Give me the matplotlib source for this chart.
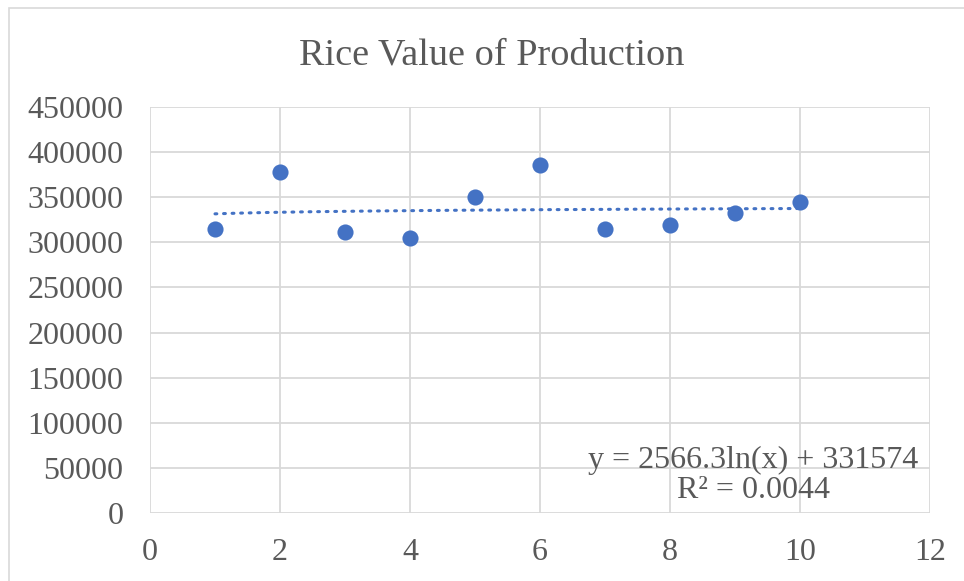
import numpy as np
import matplotlib.pyplot as plt
from matplotlib.patches import Rectangle

plt.rcParams['font.family'] = ['Liberation Serif', 'DejaVu Serif']

# data
years = [1, 2, 3, 4, 5, 6, 7, 8, 9, 10]
value = [315000, 378000, 311000, 304500, 350000, 385500, 315000, 319000, 332500, 344500]

# logarithmic trendline as printed on the chart
trend_a = 2566.3
trend_b = 331574
trend_label = "y = 2566.3ln(x) + 331574\nR² = 0.0044"

blue = '#4472C4'
grey_text = '#595959'
grid_col = '#D9D9D9'

fig = plt.figure(figsize=(9.64, 5.81), dpi=100)
ax = fig.add_axes([150 / 964, 68 / 581, 780 / 964, 406 / 581])

# outer chart border
fig.patches.append(Rectangle((9 / 964, -0.1), 1.0, 1.1 - 8 / 581, transform=fig.transFigure,
                             fill=False, edgecolor=grid_col, linewidth=1.2))

xs = np.linspace(min(years), max(years), 200)
ax.plot(xs, trend_a * np.log(xs) + trend_b, color=blue, linewidth=2.2,
        linestyle=(0, (0.6, 2.2)), dash_capstyle='round', zorder=2)
ax.scatter(years, value, s=135, color=blue, zorder=3, linewidths=0)

ax.set_xlim(0, 12)
ax.set_ylim(0, 450000)
ax.set_xticks(range(0, 13, 2))
ax.set_yticks(range(0, 450001, 50000))
ax.grid(True, color=grid_col, linewidth=1.3, zorder=0)
ax.set_axisbelow(True)
for s in ax.spines.values():
    s.set_visible(False)
ax.tick_params(length=0, labelsize=23, labelcolor=grey_text)
ax.tick_params(axis='x', pad=18)
ax.tick_params(axis='y', pad=19)

ax.text(9.28, 41500, trend_label, ha='center', va='center', fontsize=23,
        color=grey_text, linespacing=1.05)

fig.text(492 / 964, 1 - 55 / 581, "Rice Value of Production", ha='center', va='center',
         fontsize=27.5, color=grey_text)

fig.savefig('out.png', dpi=100)
